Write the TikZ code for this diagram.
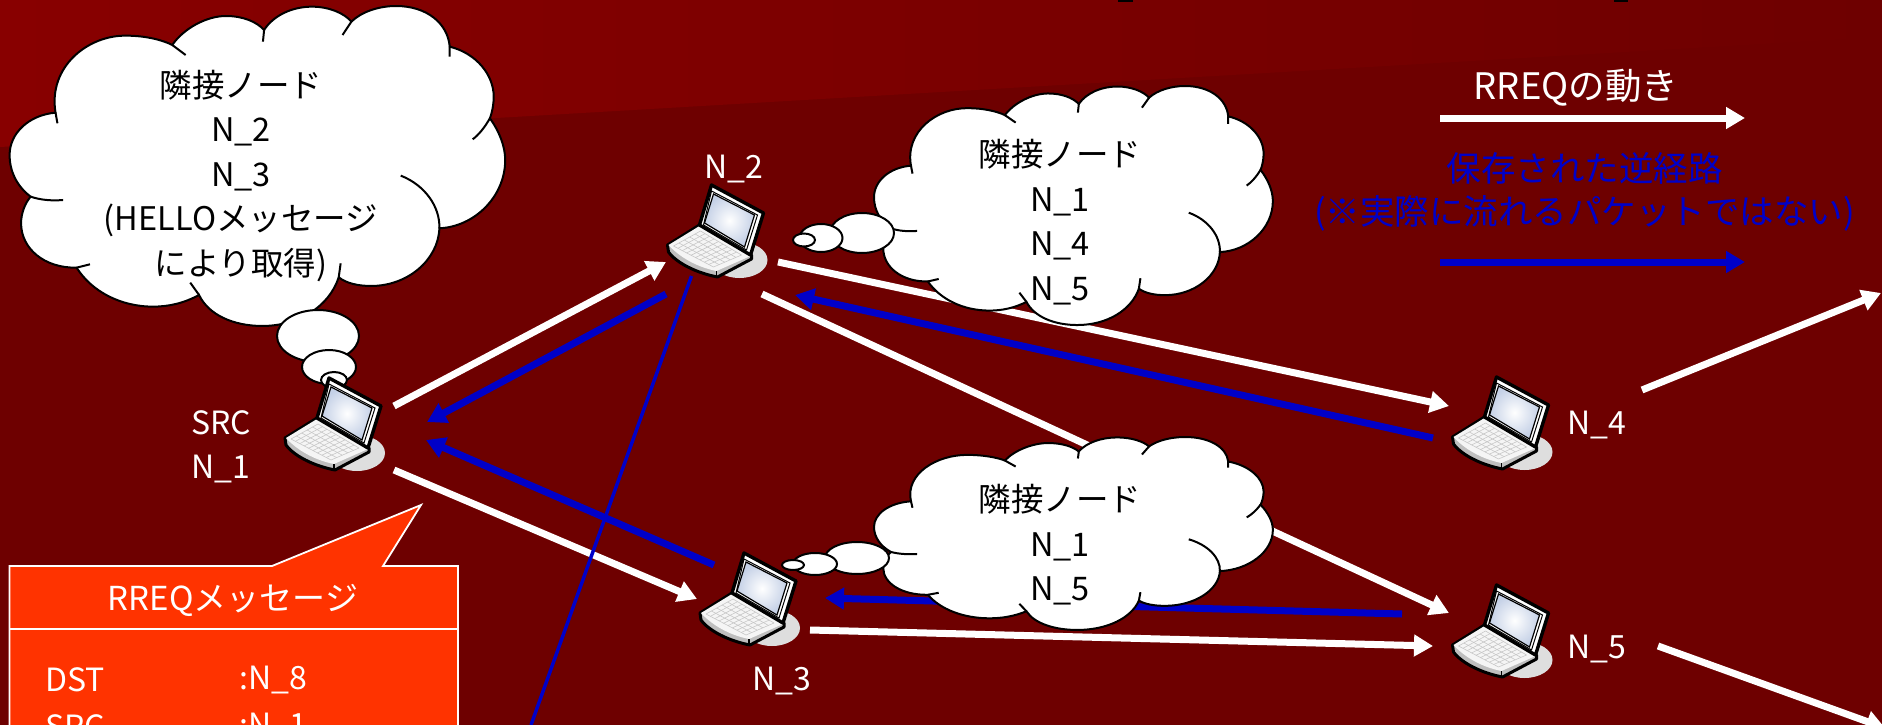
\documentclass[tikz,border=0pt]{standalone}
\usepackage{fontspec}
\setmainfont{Noto Sans CJK JP}
\usepackage{xcolor}
\usepackage{tikz}
\usetikzlibrary{arrows.meta, calc, shapes}
\definecolor{bgred}{RGB}{110,0,0}
\definecolor{topred}{RGB}{136,0,0}
\definecolor{rev}{RGB}{0,0,200}
\definecolor{msgbox}{RGB}{255,51,0}
\definecolor{screen}{RGB}{196,208,230}
\tikzstyle{host} = [rectangle, minimum width=100pt, minimum height=93pt, inner sep=0pt]
\tikzstyle{whitetext} = [text=white, align=center, font=\fontsize{32}{44.5}\selectfont]
\tikzstyle{cloudtext} = [text=black, align=center, font=\fontsize{32.5}{44.5}\selectfont]
\tikzstyle{bluetext} = [text=rev, align=center, font=\fontsize{34.5}{43}\selectfont]
\tikzstyle{msgtext} = [text=white, anchor=west, font=\fontsize{32}{44.5}\selectfont]
\tikzstyle{rreqarrow} = [white, line width=7pt, -{Triangle[length=19pt,width=21pt]}]
\tikzstyle{revarrow} = [rev, line width=7pt, -{Triangle[length=19pt,width=21pt]}]
\tikzstyle{revline} = [rev, line width=3.5pt]
\tikzstyle{bubble} = [draw=black, fill=white, line width=2pt]
\tikzset{
	laptop/.pic={
		\begin{scope}[shift={(-6,-46)}]
		\fill [black!13] (28,75) ellipse [x radius=28, y radius=18];
		% base
		\draw [fill=black!25, line width=3pt, line join=round] (-44,60) -- (-12,40) -- (40,70) -- (40,74) -- (6,92) .. controls (-15,88) and (-35,78) .. (-43,67) -- cycle;
		\fill [white!96!black] (-43,60) -- (-12,41) -- (39,71) -- (5,86) .. controls (-15,82) and (-32,72) .. (-43,60) -- cycle;
		\foreach \t in {0,0.2,0.4,0.6,0.8,1} {
			\draw [black!22, line width=0.6pt] ({-11-27*\t},{46+15*\t}) -- ({30-28*\t},{70+12*\t});
		}
		\foreach \t in {0,0.11,0.22,0.33,0.44,0.55,0.66,0.77,0.88,1} {
			\draw [black!22, line width=0.6pt] ({-11+41*\t},{46+24*\t}) -- ({-38+40*\t},{61+21*\t});
		}
		\draw [line width=1.6pt] (5,86) -- (5,92);
		% lid
		\draw [fill=white, line width=3.4pt, line join=round] (0,0) -- (52,28) -- (39,70) -- (-12,40) -- cycle;
		\draw [line width=1pt] (0,6) -- (46,30) -- (35,65) -- (-8,40) -- cycle;
		\shade [inner color=white, outer color=screen, draw=black, line width=1.2pt] (2,9) -- (43,30) -- (33,62) -- (-7,38) -- cycle;
		\end{scope}
	},
	thoughtcloud/.pic={
		\begin{scope}[shift={(-25,-18)}]
		\draw [fill=white, line width=2pt] (145,338) .. controls (125,200) and (230,105) .. (330,107) .. controls (380,107) and (425,120) .. (450,135)
			.. controls (480,85) and (540,48) .. (590,48) .. controls (635,48) and (670,65) .. (690,90)
			.. controls (715,45) and (765,20) .. (815,20) .. controls (860,20) and (900,40) .. (918,65)
			.. controls (945,35) and (990,18) .. (1035,18) .. controls (1115,18) and (1170,70) .. (1175,140)
			.. controls (1245,160) and (1290,225) .. (1290,290) .. controls (1290,315) and (1285,340) .. (1280,355)
			.. controls (1305,395) and (1320,440) .. (1320,480) .. controls (1320,590) and (1240,680) .. (1148,685)
			.. controls (1145,780) and (1065,858) .. (970,858) .. controls (935,858) and (905,850) .. (885,832)
			.. controls (860,920) and (780,978) .. (685,978) .. controls (610,978) and (545,945) .. (520,885)
			.. controls (480,910) and (440,920) .. (400,920) .. controls (315,920) and (240,875) .. (200,803)
			.. controls (115,805) and (55,745) .. (55,670) .. controls (55,640) and (65,610) .. (80,590)
			.. controls (45,560) and (25,515) .. (25,465) .. controls (25,400) and (75,345) .. (145,338) -- cycle;
		% inner strokes
		\draw [line width=2pt] (145,338) -- (150,370) (450,135) -- (485,165) (690,90) -- (687,125) (918,65) -- (895,105) (1175,140) -- (1175,170)
			(1280,355) .. controls (1265,385) and (1250,405) .. (1235,418)
			(1047,527) .. controls (1110,555) and (1150,620) .. (1148,685)
			(885,832) -- (890,790) (520,885) -- (497,848) (200,803) -- (235,793)
			(80,590) .. controls (105,600) and (135,603) .. (165,600);
		\end{scope}
	},
}
\begin{document}
\begin{tikzpicture}[x=1pt, y=-1pt]
	\clip (0,0) rectangle (1885,725);
	\fill [white] (0,0) rectangle (1885,725);
	\fill [bgred] (0,0) rectangle (1882,725);
	\shade [left color=topred, right color=bgred] (0,0) -- (1882,0) -- (1882,37) -- (0,147) -- cycle;
	\fill [black] (1118,0) rectangle (1133,2);
	\fill [black] (1614,0) rectangle (1628,2);

	% Nodes
	\node (src) [host] at (335,424) {};
	\node (n2) [host] at (717.5,231) {};
	\node (n3) [host] at (750,599) {};
	\node (n4) [host] at (1502.5,423) {};
	\node (n5) [host] at (1502.5,631) {};
	\coordinate (exitup) at (1881,293);
	\coordinate (exitdown) at (1885,728);
	\coordinate (revbottom) at (531,725);

	% Message box
	\draw [fill=msgbox, draw=white, line width=1.8pt] (9.5,730) -- (9.5,566) -- (272,566) -- (421,505) -- (383,566) -- (458,566) -- (458,730);
	\draw [white, line width=1.8pt] (9.5,629) -- (458,629);
	\node (msgtitle) [whitetext, font=\fontsize{33}{44.5}\selectfont] at (233,600) {RREQメッセージ};
	\node (msgdst) [msgtext, xshift=-4pt] at (46,680) {DST};
	\node (msgdstval) [msgtext, xshift=-4pt] at (240,680) {:N\_8};
	\node (msgsrc) [msgtext, xshift=-4pt] at (46,727) {SRC};
	\node (msgsrcval) [msgtext, xshift=-4pt] at (240,727) {:N\_1};

	% Arrows
	\draw [rreqarrow] ([shift={(59,-18)}]src.center) -- ([shift={(-51.5,31)}]n2.center);
	\draw [rreqarrow] ([shift={(60.5,31)}]n2.center) -- ([shift={(-53.5,-17)}]n4.center);
	\draw [rreqarrow] ([shift={(44.5,63)}]n2.center) -- ([shift={(-53.5,-18)}]n5.center);
	\draw [rreqarrow] ([shift={(59,46)}]src.center) -- ([shift={(-53,0)}]n3.center);
	\draw [rreqarrow] ([shift={(60,31)}]n3.center) -- ([shift={(-69.5,15)}]n5.center);
	\draw [rreqarrow] ([shift={(139.5,-33)}]n4.center) -- (exitup);
	\draw [rreqarrow] ([shift={(155.5,15)}]n5.center) -- (exitdown);
	\draw [revarrow] ([shift={(-51.5,63)}]n2.center) -- ([shift={(92,-2)}]src.center);
	\draw [revarrow] ([shift={(-36,-34)}]n3.center) -- ([shift={(91,16)}]src.center);
	\draw [revarrow] ([shift={(-69.5,15)}]n4.center) -- ([shift={(77.5,64)}]n2.center);
	\draw [revarrow] ([shift={(-100.5,-17)}]n5.center) -- ([shift={(75,-1)}]n3.center);
	\draw [revline] ([shift={(-26,45)}]n2.center) -- (revbottom);

	% Clouds
	\pic [xscale=0.3827, yscale=0.3333] at (9.6,6) {thoughtcloud};
	\draw [bubble] (318,336) ellipse [x radius=41, y radius=26];
	\draw [bubble] (329,367) ellipse [x radius=27, y radius=17];
	\draw [bubble] (334,380) ellipse [x radius=13, y radius=8];
	\pic [xscale=0.308, yscale=0.249] at (874,86) {thoughtcloud};
	\draw [bubble] (862,233) ellipse [x radius=32, y radius=20];
	\draw [bubble] (821,238) ellipse [x radius=21.5, y radius=14];
	\draw [bubble] (804,240) ellipse [x radius=11, y radius=6.5];
	\pic [xscale=0.308, yscale=0.201] at (874,437) {thoughtcloud};
	\draw [bubble] (857,558) ellipse [x radius=32, y radius=16];
	\draw [bubble] (815,564) ellipse [x radius=22, y radius=11];
	\draw [bubble] (793,565) ellipse [x radius=11, y radius=5];

	% Laptops
	\pic at (src.center) {laptop};
	\pic at (n2.center) {laptop};
	\pic at (n3.center) {laptop};
	\pic at (n4.center) {laptop};
	\pic at (n5.center) {laptop};

	% Texts
	\node (srcneighbours) [cloudtext] at (241,176) {隣接ノード\\N\_2\\N\_3\\(HELLOメッセージ\\により取得)};
	\node (n2neighbours) [cloudtext] at (1060,222) {隣接ノード\\N\_1\\N\_4\\N\_5};
	\node (n3neighbours) [cloudtext] at (1060,545) {隣接ノード\\N\_1\\N\_5};
	\node (srclabel) [whitetext] at (221,447) {SRC\\N\_1};
	\node (n2label) [whitetext] at (733.5,169) {N\_2};
	\node (n3label) [whitetext] at (782,681) {N\_3};
	\node (n4label) [whitetext] at (1597,425) {N\_4};
	\node (n5label) [whitetext] at (1597,649) {N\_5};

	% Legend
	\node (rreqlegend) [whitetext, font=\fontsize{36.5}{44.5}\selectfont] at (1576,88) {RREQの動き};
	\node (revlegend) [bluetext] at (1584.5,192) {保存された逆経路\\(※実際に流れるパケットではない)};
	\coordinate (rreqfrom) at (1440,118);
	\coordinate (rreqto) at (1745,118);
	\coordinate (revfrom) at (1440,262);
	\coordinate (revto) at (1745,262);
	\draw [rreqarrow] (rreqfrom) -- (rreqto);
	\draw [revarrow] (revfrom) -- (revto);
\end{tikzpicture}
\end{document}
